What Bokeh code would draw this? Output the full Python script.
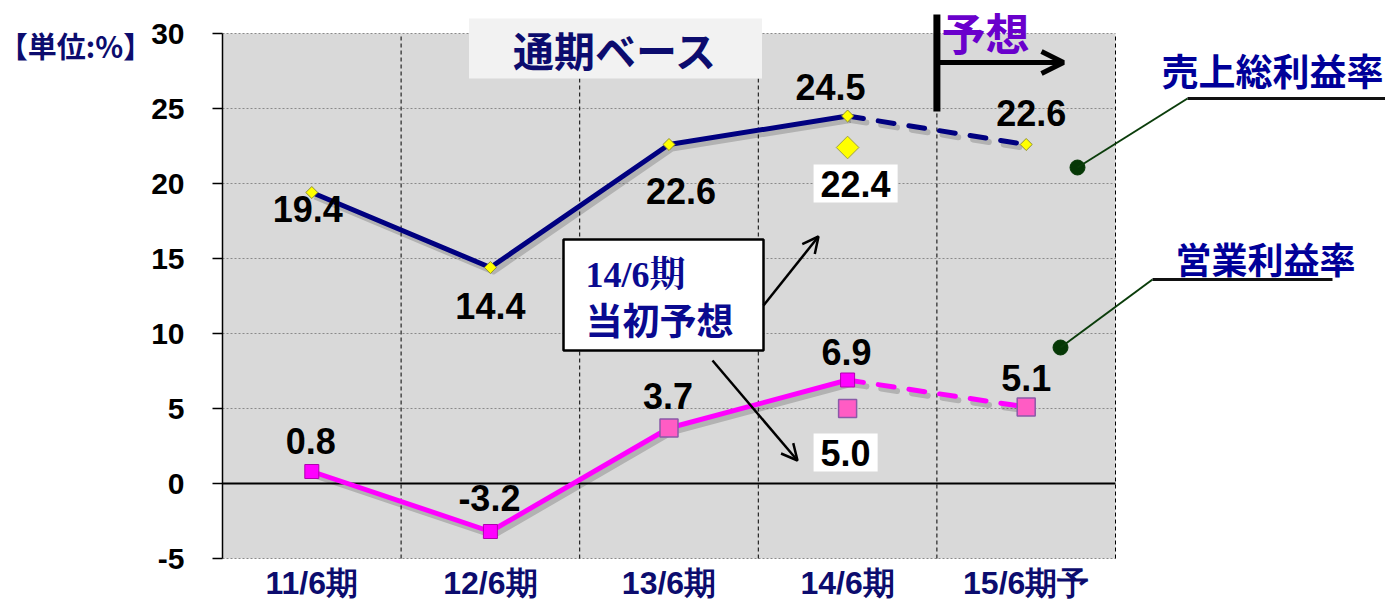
import numpy as np
from bokeh.plotting import figure
from bokeh.models import (Range1d, FixedTicker, LinearAxis, Label, Arrow, OpenHead,
                          BoxAnnotation)
from bokeh.core.properties import value
from bokeh.embed import file_html
from bokeh.resources import INLINE

# ---------------- data ----------------
periods = ["11/6期", "12/6期", "13/6期", "14/6期", "15/6期予"]
gross_margin = [19.4, 14.4, 22.6, 24.5, 22.6]      # 売上総利益率
op_margin = [0.8, -3.2, 3.7, 6.9, 5.1]            # 営業利益率
n_actual = 4                                      # first 4 periods actual, last one forecast
initial_period = "14/6期"
initial_gross = 22.4                              # 14/6期 当初予想
initial_op = 5.0
y_ticks = [-5, 0, 5, 10, 15, 20, 25, 30]

# ---------------- layout (pixel geometry of the plot area) ----------------
W, H = 1385, 602
FL, FT, FW, FH = 222, 33, 893, 525
YMIN, YMAX = y_ticks[0], y_ticks[-1]
XMAX = len(periods)
PXX = XMAX / FW
PXY = (YMAX - YMIN) / FH


def dx(px):
    return (px - FL) * PXX


def dy(py):
    return YMAX - (py - FT) * PXY


NUMF = "Liberation Sans"
JPF = "Noto Sans CJK JP"
NAVY = "#000080"
LBL_NAVY = "#0c0c6e"
MAG = "#ff00ff"
PINK = "#ff5cc4"

p = figure(width=W, height=H, x_range=Range1d(dx(0), dx(W)), y_range=Range1d(dy(H), dy(0)),
           x_axis_type=None, y_axis_type=None, output_backend="svg", toolbar_location=None,
           min_border=0, background_fill_color="white", border_fill_color="white",
           outline_line_color=None)

xs = np.arange(len(periods)) + 0.5
xi = xs[periods.index(initial_period)]

# plot area background + grid
p.quad(left=0, right=XMAX, bottom=YMIN, top=YMAX, fill_color="#d9d9d9", line_color=None)
hy = [t for t in y_ticks if t != 0]
p.segment(x0=[0] * len(hy), x1=[XMAX] * len(hy), y0=hy, y1=hy, line_color="#8a8a8a",
          line_dash="2 2", line_width=1)
vx = list(range(1, XMAX + 1))
p.segment(x0=vx, x1=vx, y0=[YMIN] * len(vx), y1=[YMAX] * len(vx), line_color="black",
          line_dash="4 3", line_width=1)
p.segment(x0=[0], x1=[XMAX], y0=[0], y1=[0], line_color="black", line_width=2)

# axes (fixed inside the full-canvas frame)
yaxis = LinearAxis(ticker=FixedTicker(ticks=y_ticks), fixed_location=0, bounds=(YMIN, YMAX),
                   major_label_overrides={float(t): str(t) for t in y_ticks},
                   major_tick_out=10, major_tick_in=0, minor_tick_line_color=None,
                   axis_line_color="black", axis_line_width=1.5, major_tick_line_width=1.5,
                   major_label_standoff=28, major_label_text_font=NUMF,
                   major_label_text_font_style="bold", major_label_text_font_size="30px",
                   major_label_text_color="black")
p.add_layout(yaxis, "left")
xaxis = LinearAxis(ticker=FixedTicker(ticks=list(xs)), fixed_location=YMIN, bounds=(0, XMAX),
                   major_label_overrides={float(x): lab for x, lab in zip(xs, periods)},
                   major_tick_line_color=None, minor_tick_line_color=None,
                   axis_line_color=None, major_label_standoff=0,
                   major_label_text_font=NUMF, major_label_text_font_style="bold",
                   major_label_text_font_size="32px", major_label_text_color=LBL_NAVY)
p.add_layout(xaxis, "below")

# ---------------- lines ----------------
sx, sy = 3 * PXX, -4 * PXY
ga, oa = np.array(gross_margin), np.array(op_margin)
DASH = "16 15"
for vals, col in ((ga, NAVY), (oa, MAG)):
    p.line(xs[:n_actual] + sx, vals[:n_actual] + sy, line_color="black", line_alpha=0.18,
           line_width=6, line_join="round")
    p.line(xs[n_actual - 1:] + sx, vals[n_actual - 1:] + sy, line_color="black",
           line_alpha=0.18, line_width=6, line_dash=DASH, line_cap="round")
    p.line(xs[:n_actual], vals[:n_actual], line_color=col, line_width=5, line_join="round")
    p.line(xs[n_actual - 1:], vals[n_actual - 1:], line_color=col, line_width=5,
           line_dash=DASH, line_cap="round")

# markers
p.scatter(xs, ga, marker="square", angle=np.pi / 4, size=8.5, fill_color="yellow",
          line_color="#8f8f30", line_width=1)
p.scatter([xi], [initial_gross], marker="square", angle=np.pi / 4, size=16,
          fill_color="yellow", line_color="#a0a040", line_width=1)
small_idx = [0, 1, 3]
big_idx = [2, 4]
p.scatter(xs[small_idx], oa[small_idx], marker="square", size=14, fill_color=MAG,
          line_color="#b000b0", line_width=1)
p.scatter(xs[big_idx], oa[big_idx], marker="square", size=18, fill_color=PINK,
          line_color="#8a5aa8", line_width=1.5)
p.scatter([xi], [initial_op], marker="square", size=18, fill_color=PINK,
          line_color="#8a5aa8", line_width=1.5)

# data labels
g_off = [(-4, 16), (0, 38), (12, 46), (-17, -29), (5, -32)]
o_off = [(-1, -31), (-1, -34), (-1, -32), (-1, -28), (0, -29)]
for vals, offs in ((gross_margin, g_off), (op_margin, o_off)):
    p.text(xs, vals, text=[f"{v:.1f}" for v in vals],
           x_offset=[o[0] for o in offs], y_offset=[o[1] for o in offs],
           text_align="center", text_baseline="middle", text_font=value(NUMF),
           text_font_style="bold", text_font_size="36px", text_color="black")

for v, off in ((initial_gross, (8, 36)), (initial_op, (-2, 44))):
    p.text([xi], [v], text=[f"{v:.1f}"], x_offset=off[0], y_offset=off[1],
           text_align="center", text_baseline="middle", text_font=value(NUMF),
           text_font_style="bold", text_font_size="36px", text_color="black",
           background_fill_color="white", padding=(7, 6))

# ---------------- annotations ----------------
# title box with soft shadow
for shadow in (True, False):
    o = (4, 5) if shadow else (0, 0)
    p.add_layout(Label(x=dx(615 + o[0]), y=dy(48 + o[1]), text="通期ベース",
                       text_align="center", text_baseline="middle",
                       text_font=JPF, text_font_style="bold", text_font_size="41px",
                       text_color=LBL_NAVY, text_alpha=0 if shadow else 1,
                       background_fill_color="#9a9a9a" if shadow else "#f2f2f2",
                       background_fill_alpha=0.5 if shadow else 1,
                       padding=(44, 0)))

# unit label
p.add_layout(Label(x=dx(75), y=dy(44), text="【単位:%】", text_align="center",
                   text_baseline="middle", text_font=JPF, text_font_style="bold",
                   text_font_size="29px", text_color=LBL_NAVY))

# forecast marker
p.add_layout(Label(x=dx(985), y=dy(31), text="予想", text_align="center",
                   text_baseline="middle", text_font=JPF, text_font_style="bold",
                   text_font_size="44px", text_color="#6a00cc"))
p.add_layout(Arrow(x_start=n_actual, y_start=dy(111), x_end=n_actual, y_end=dy(14),
                   start=None, end=None, line_color="black", line_width=7))
p.add_layout(Arrow(x_start=n_actual, y_start=dy(62), x_end=dx(1063), y_end=dy(62),
                   start=None, end=OpenHead(size=22, line_width=5, line_color="black"),
                   line_color="black", line_width=5))

# 当初予想 box
p.add_layout(BoxAnnotation(left=dx(563), right=dx(763), top=dy(239), bottom=dy(350),
                           fill_color="white", fill_alpha=1, line_color="black",
                           line_alpha=1, line_width=2.5))
p.add_layout(Label(x=dx(585), y=dy(274), text="14/6期", text_align="left",
                   text_baseline="middle",
                   text_font="Liberation Serif, Noto Serif CJK JP, Noto Sans CJK JP",
                   text_font_style="bold", text_font_size="36px", text_color="#0a0a90"))
p.add_layout(Label(x=dx(585), y=dy(318), text="当初予想", text_align="left",
                   text_baseline="middle", text_font=JPF, text_font_style="bold",
                   text_font_size="37px", text_color="#0a0a90"))
p.add_layout(Arrow(x_start=dx(763), y_start=dy(305), x_end=dx(818), y_end=dy(236),
                   end=OpenHead(size=16, line_width=2.5), line_width=2.5))
p.add_layout(Arrow(x_start=dx(712), y_start=dy(360), x_end=dx(797), y_end=dy(460),
                   end=OpenHead(size=16, line_width=2.5), line_width=2.5))

# legend call-outs
for name, size, (tx, ty), (ux0, ux1, uy), (dotx, doty) in (
        ("売上総利益率", "37px", (1272, 69), (1187, 1385, 98), (1077, 167)),
        ("営業利益率", "36px", (1265, 257), (1152, 1332, 279), (1060, 347))):
    p.add_layout(Label(x=dx(tx), y=dy(ty), text=name, text_align="center",
                       text_baseline="middle", text_font=JPF, text_font_style="bold",
                       text_font_size=size, text_color="#000099"))
    p.add_layout(Arrow(x_start=dx(ux0), y_start=dy(uy), x_end=dx(ux1), y_end=dy(uy),
                       start=None, end=None, line_color="#111111", line_width=3))
    p.add_layout(Arrow(x_start=dx(ux0), y_start=dy(uy), x_end=dx(dotx), y_end=dy(doty),
                       start=None, end=None, line_color="#0b3d0b", line_width=2))
    p.scatter([dx(dotx)], [dy(doty)], marker="circle", size=15, fill_color="#063806",
              line_color="#063806")

open("out.html", "w").write(file_html(p, INLINE))
